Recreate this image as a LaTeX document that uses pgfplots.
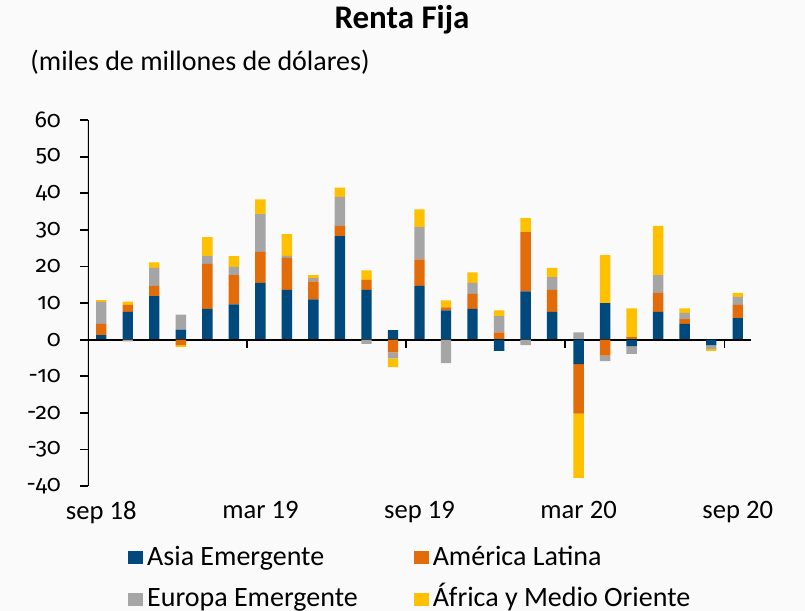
\documentclass[border=0pt]{standalone}
\usepackage{pgfplots}
\pgfplotsset{compat=1.18}
\usepackage{pgfplotstable}
\usepackage{fontspec}
\setmainfont{Carlito}
\newfontfamily\onum{Fira Sans}[Numbers=OldStyle]
\definecolor{asia}{RGB}{0,73,124}
\definecolor{latam}{RGB}{227,108,10}
\definecolor{euro}{RGB}{165,165,165}
\definecolor{afri}{RGB}{255,192,0}
\definecolor{bg}{RGB}{250,250,250}

\pgfplotstableread{
x asia latam europa africa
1 1.2 3.1 6.0 0.5
2 7.6 1.9 -0.5 0.9
3 11.9 2.8 4.9 1.5
4 2.7 -1.5 4.1 -0.5
5 8.4 12.3 2.1 5.2
6 9.6 8.0 2.3 2.9
7 15.5 8.5 10.3 4.0
8 13.6 8.7 0.6 5.9
9 11.0 4.9 0.9 0.8
10 28.3 2.8 7.9 2.5
11 13.6 2.7 -1.2 2.6
12 2.6 -3.5 -1.6 -2.4
13 14.7 7.2 8.8 4.9
14 8.0 0.8 -6.4 1.9
15 8.4 4.1 3.0 2.9
16 -3.1 2.0 4.4 1.6
17 13.2 16.2 -1.5 3.8
18 7.6 6.0 3.5 2.5
19 -6.7 -13.5 2.0 -17.6
20 10.0 -4.4 -1.5 13.1
21 -1.8 0.7 -2.1 7.8
22 7.6 5.2 4.8 13.5
23 4.3 1.3 1.7 1.2
24 -1.5 0.0 -1.1 -0.5
25 5.9 3.6 2.2 1.1
}\flows

\pgfplotsset{base/.style={
  scale only axis, width=331.5pt, height=183pt,
  at={(44pt,-243pt)}, anchor=south west,
  xmin=0.5, xmax=25.5, ymin=-40, ymax=60,
  ybar stacked, bar width=5.2pt,
}}

\begin{document}
\begin{tikzpicture}
\useasboundingbox (0,0) rectangle (402.5pt,-305.5pt);
\fill[bg] (0,0) rectangle (402.5pt,-305.5pt);
\node[font=\fontsize{16.5}{18}\selectfont\bfseries] at (201pt,-10pt) {Renta Fija};
\node[anchor=west, font=\fontsize{14}{16}\selectfont, inner sep=0pt] at (15pt,-31pt) {(miles de millones de dólares)};
\begin{axis}[base,
  axis line style={draw=none},
  xtick={1,7,13,19,25},
  xticklabels={sep 18,mar 19,sep 19,mar 20,sep 20},
  xtick style={draw=none},
  ytick={-40,-30,...,60},
  yticklabels={-40,-30,-20,-10,0,10,20,30,40,50,60},
  ytick pos=left, tick align=outside, major tick length=4pt,
  ytick style={black, line width=0.9pt},
  xticklabel style={font=\fontsize{13.3}{15}\selectfont, yshift=0pt},
  yticklabel style={font=\onum\fontsize{11.5}{14}\selectfont, xshift=-6pt},
  legend columns=2,
  legend style={at={(0.06,-0.152)}, anchor=north west, draw=none, fill=none,
    inner sep=0pt, font=\fontsize{14}{16}\selectfont, row sep=3.5pt,
    cells={anchor=base west},
    /tikz/every even column/.append style={column sep=26pt}},
  legend image code/.code={\path (0pt,0pt); \fill[#1, draw=none] (0pt,0.6pt) rectangle (7.5pt,7.1pt);},
]
\addplot[fill=asia, draw=none] table[x=x, y expr={max(\thisrow{asia},0)}] {\flows};
\addlegendentry{Asia Emergente}
\addplot[fill=latam, draw=none] table[x=x, y expr={max(\thisrow{latam},0)}] {\flows};
\addlegendentry{América Latina}
\addplot[fill=euro, draw=none] table[x=x, y expr={max(\thisrow{europa},0)}] {\flows};
\addlegendentry{Europa Emergente}
\addplot[fill=afri, draw=none] table[x=x, y expr={max(\thisrow{africa},0)}] {\flows};
\addlegendentry{África y Medio Oriente}
\end{axis}
\begin{axis}[base, hide axis]
\addplot[fill=asia, draw=none] table[x=x, y expr={min(\thisrow{asia},0)}] {\flows};
\addplot[fill=latam, draw=none] table[x=x, y expr={min(\thisrow{latam},0)}] {\flows};
\addplot[fill=euro, draw=none] table[x=x, y expr={min(\thisrow{europa},0)}] {\flows};
\addplot[fill=afri, draw=none] table[x=x, y expr={min(\thisrow{africa},0)}] {\flows};
\draw[black, line width=1.1pt] (axis cs:0.5,-40) -- (axis cs:0.5,60);
\draw[black, line width=1.1pt] (axis cs:0.5,0) -- (axis cs:25.5,0);
\pgfplotsinvokeforeach{6.5,12.5,18.5,24.5}{
  \draw[black, line width=0.9pt] (axis cs:#1,0) -- ([yshift=-4pt]axis cs:#1,0);
}
\end{axis}
\end{tikzpicture}
\end{document}
